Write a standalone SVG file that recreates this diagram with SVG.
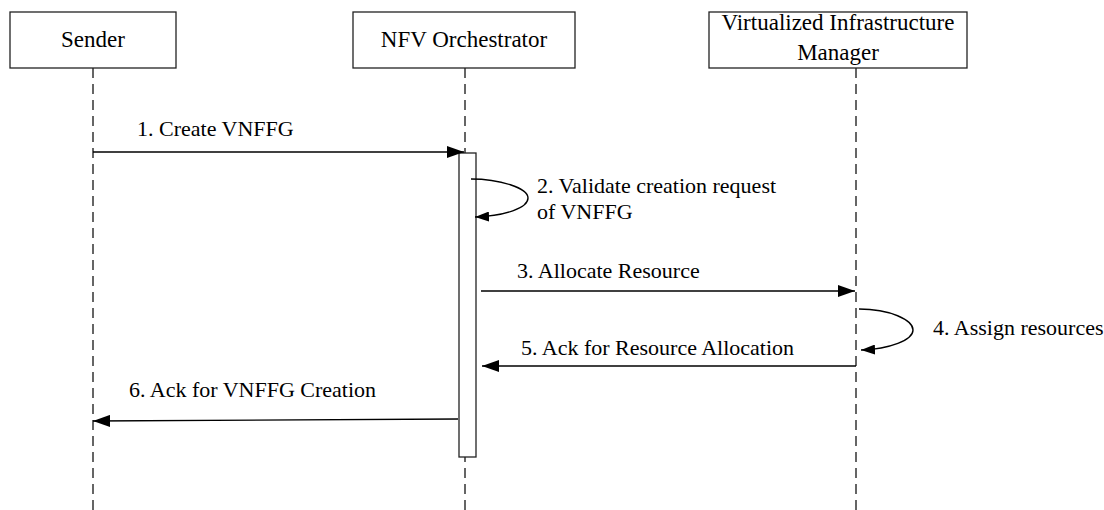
<svg xmlns="http://www.w3.org/2000/svg" width="1104" height="510" viewBox="0 0 1104 510">
<style>
.box{fill:#fff;stroke:#222;stroke-width:1.3}
.hd{font-family:"Liberation Serif","Times New Roman",serif;font-size:23px;fill:#000;text-anchor:middle}
.lb{font-family:"Liberation Serif","Times New Roman",serif;font-size:22px;fill:#000}
.life{stroke:#333;stroke-width:1.5;stroke-dasharray:10 6;fill:none}
.msg{stroke:#000;stroke-width:1.4;fill:none}
.act{fill:#fff;stroke:#222;stroke-width:1.3}
</style>
<defs>
<marker id="ah" markerUnits="userSpaceOnUse" markerWidth="18" markerHeight="12" refX="17" refY="6" orient="auto">
<path d="M0,0 L17,6 L0,12 z" fill="#000"/>
</marker>
<marker id="ahs" markerUnits="userSpaceOnUse" markerWidth="15" markerHeight="10" refX="14" refY="5" orient="auto">
<path d="M0,0 L14,5 L0,10 z" fill="#000"/>
</marker>
</defs>
<g id="lifelines">
<line class="life" x1="93" y1="68" x2="93" y2="510"/>
<line class="life" x1="465" y1="68" x2="465" y2="510"/>
<line class="life" x1="856" y1="68" x2="856" y2="510"/>
</g>
<g id="sender">
<rect class="box" x="10" y="12" width="166" height="56"/>
<text class="hd" x="93" y="47">Sender</text>
</g>
<g id="nfvo">
<rect class="box" x="353" y="12" width="222" height="56"/>
<text class="hd" x="464" y="47">NFV Orchestrator</text>
</g>
<g id="vim">
<rect class="box" x="709" y="12" width="258" height="56"/>
<text class="hd" x="838" y="30">Virtualized Infrastructure</text>
<text class="hd" x="838" y="60">Manager</text>
</g>
<g id="activation">
<rect class="act" x="459" y="153" width="17" height="304"/>
</g>
<g id="connectors">
<line class="msg" x1="93" y1="152" x2="464" y2="152" marker-end="url(#ah)"/>
<path class="msg" d="M471 179 C500 179 528 188 528 198 C528 208 505 216 475 217" stroke-width="1.2" marker-end="url(#ahs)"/>
<line class="msg" x1="481" y1="291" x2="855" y2="291" marker-end="url(#ah)"/>
<path class="msg" d="M859 309 C890 309 913 320 913 330 C913 340 890 349 861 350" stroke-width="1.2" marker-end="url(#ahs)"/>
<line class="msg" x1="856" y1="366" x2="482" y2="366" marker-end="url(#ah)"/>
<line class="msg" x1="458" y1="419" x2="93" y2="421" marker-end="url(#ah)"/>
</g>
<g id="labels">
<text class="lb" x="137" y="136">1. Create VNFFG</text>
<text class="lb" x="537" y="193">2. Validate creation request</text>
<text class="lb" x="537" y="219">of VNFFG</text>
<text class="lb" x="517" y="278">3. Allocate Resource</text>
<text class="lb" x="933" y="335">4. Assign resources</text>
<text class="lb" x="521" y="355">5. Ack for Resource Allocation</text>
<text class="lb" x="129" y="397">6. Ack for VNFFG Creation</text>
</g>
</svg>
